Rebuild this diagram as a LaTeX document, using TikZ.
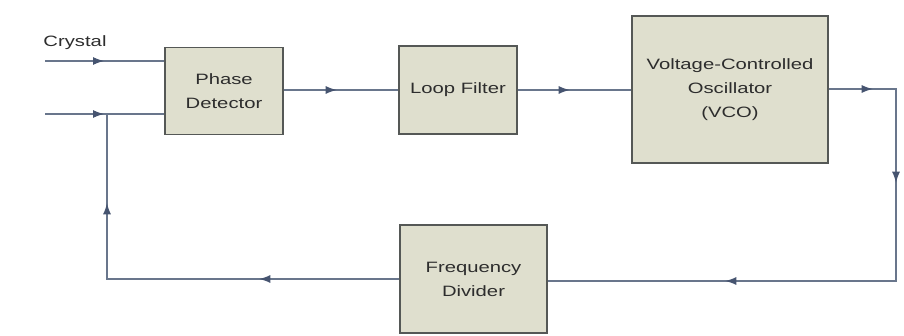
\documentclass[tikz,border=0pt]{standalone}
\usepackage{fontspec}
\setmainfont{Liberation Sans}[FakeStretch=1.35]
\usetikzlibrary{arrows.meta,decorations.markings}

\definecolor{boxfill}{RGB}{223,223,206}
\definecolor{boxline}{RGB}{85,88,86}
\definecolor{wire}{RGB}{105,118,140}
\definecolor{tipcol}{RGB}{70,84,112}
\definecolor{ink}{RGB}{45,45,45}

\tikzset{
  block/.style={draw=boxline, line width=1.4pt, fill=boxfill, align=center,
    text=ink, font=\fontsize{15}{24}\selectfont, inner sep=0pt},
  wire/.style={draw=wire, line width=1.1pt},
  tipat/.style={postaction={decorate,decoration={markings,
    mark=at position #1 with {\arrow[tipcol]{Latex[length=11pt,width=8pt]}}}}}
}

\begin{document}
\begin{tikzpicture}[x=1pt,y=-1pt]
          \useasboundingbox (0,0) rectangle (904,336);

          \node[block, minimum width=118pt, minimum height=87pt] (pd) at (224,91) {Phase\\Detector};
          \node[block, minimum width=118pt, minimum height=88pt] (lf) at (458,90) {Loop Filter};
          \node[block, minimum width=196pt, minimum height=147pt] (vco) at (730,89.5) {Voltage-Controlled\\Oscillator\\(VCO)};
          \node[block, minimum width=147pt, minimum height=108pt] (fd) at (473.5,279) {Frequency\\Divider};

          \node[text=ink, font=\fontsize{15}{17}\selectfont] (xtal) at (75,43) {Crystal};

          \coordinate (xin) at (45,61);
          \coordinate (fbin) at (45,114);
          \coordinate (tap) at (896,89);
          \coordinate (tapdn) at (896,281);
          \coordinate (fbcorner) at (107,279);
          \coordinate (fbup) at (107,114);

          \draw[wire, tipat=59pt] (xin) -- (xin -| pd.west);
          \draw[wire, tipat=59pt] (fbin) -- (fbin -| pd.west);
          \draw[wire, tipat=53pt] (pd.east |- lf.west) -- (lf.west);
          \draw[wire, tipat=52pt] (lf.east) -- (lf.east -| vco.west);
          \draw[wire, tipat=44pt, tipat=161pt, tipat=430pt]
            (vco.east |- tap) -- (tap) -- (tapdn) -- (tapdn -| fd.east);
          \draw[wire, tipat=140pt, tipat=368pt]
            (fd.west |- fbcorner) -- (fbcorner) -- (fbup);

        \end{tikzpicture}
\end{document}
